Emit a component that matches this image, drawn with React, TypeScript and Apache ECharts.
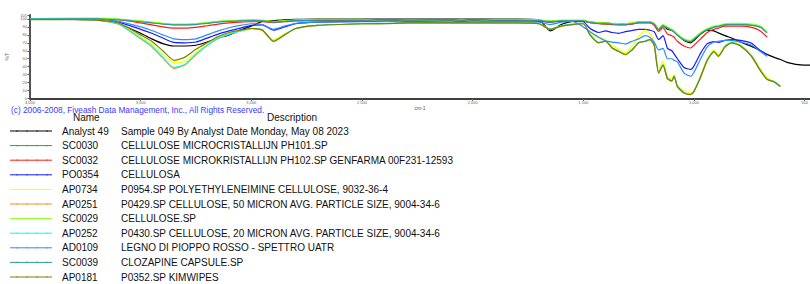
import React, { useEffect, useRef } from "react";
import * as echarts from "echarts";

// Wavenumbers (cm-1) at which the spectra were read
const WN = [4000, 3800, 3700, 3600, 3500, 3450, 3400, 3350, 3300, 3250, 3200, 3150, 3100, 3050, 3000, 2950, 2900, 2850, 2800, 2700, 2500, 2350, 2300, 2100, 2050, 2000, 1900, 1800, 1700, 1650, 1600, 1550, 1500, 1470, 1430, 1400, 1370, 1340, 1310, 1280, 1250, 1220, 1200, 1180, 1160, 1140, 1120, 1100, 1090, 1075, 1045, 1015, 1000, 970, 940, 910, 890, 860, 830, 790, 740, 700, 670, 640, 610, 580, 540, 500, 470];

const analyst49 = [99.5, 99.5, 99, 94, 82, 75, 69, 66, 66, 67, 71, 76, 80, 86, 91, 97, 98, 99, 99.5, 100, 100, 100, 100, 100, 100, 100, 100, 100, 99, 85, 93, 97, 97.5, 96, 95, 95, 94, 93.5, 93.5, 94, 96, 96, 96, 94, 87, 92, 87, 86, 84, 80, 73, 70, 73, 81, 86, 85, 82.5, 79, 76, 71, 65.5, 60, 55.5, 52, 49, 45.5, 43, 42, 42];
const sc0030 = [100, 100.5, 100.5, 99.5, 97, 95.5, 94, 93, 93, 93.5, 95, 96.5, 97.5, 98, 98.5, 98, 96.5, 97.5, 98.5, 99, 99, 99, 99, 99, 99, 99, 99, 99, 98.5, 97, 98, 98, 98, 96, 95, 94.5, 94, 93.5, 93.5, 94.5, 96, 96, 96, 94, 87, 92, 89, 86, 84, 80, 74, 72, 75, 82, 87, 90, 91, 93, 93.5, 93.5, 92.5, 90, 83];
const sc0032 = [100, 100, 100, 99, 95, 92.5, 90, 88.5, 88.5, 89.5, 91.5, 93.5, 95, 96, 96.5, 96.5, 95.5, 96.5, 97.5, 98, 98.5, 98.5, 98.5, 98.5, 98.5, 98.5, 98.5, 98.5, 98, 96.5, 97.5, 97.5, 97, 95.5, 94, 93.5, 93, 92.5, 92.5, 93.5, 95, 95, 95, 92, 84.5, 89, 81, 79, 77, 72, 66, 63.5, 67, 75, 83, 87, 88.5, 91, 91, 91, 89.5, 85, 77];
const po0354 = [100, 100, 100, 96, 87, 82, 76, 70.5, 70, 71, 76, 81, 85, 88.5, 92, 92.5, 86, 90, 94, 96, 97, 97, 97, 97, 97, 97, 97.5, 97.5, 97, 96, 97, 97, 96.5, 88, 83, 85, 83, 82, 84, 85.5, 87, 87, 86, 84, 74, 79, 63, 60, 56, 50, 39, 36.5, 41, 57, 69, 71.5, 70.5, 73, 74, 73, 69.5, 60, 55];
const ap0734 = [100, 100, 99, 95, 78, 69, 56, 45, 47, 58, 69, 77, 82, 85, 87, 86, 74, 81, 88, 92, 94, 94.5, 95, 95, 95, 95, 95, 95, 94.5, 87, 91.5, 93.5, 94.5, 82, 76, 74, 66, 62, 57, 66, 78, 86, 82, 70, 36, 47, 28, 24, 30, 17, 10, 7, 10, 29, 50, 61, 55, 67, 71.5, 67.5, 55, 37, 26, 22, 16];
const ap0251 = [99.5, 99.5, 98.5, 93.5, 75, 65, 51, 38, 42, 55, 66.5, 75.5, 81, 85, 88, 86, 72, 80, 88, 92, 94, 94.5, 95, 95, 95, 95, 95, 95, 94, 87, 91, 93, 94, 80, 70, 72, 63.5, 59, 55, 61, 70, 72, 74, 67, 32, 42, 25, 22, 28, 15, 7, 5, 9, 27, 48, 59, 53, 65, 70, 66, 53, 35, 24, 21, 15];
const sc0029 = [100.5, 101, 101, 100, 97.5, 96, 94.5, 93.5, 93.5, 94, 95.5, 97, 98, 98.5, 99, 98.5, 97, 98, 99, 99.5, 99.5, 96, 99, 97, 99.5, 96.5, 99.5, 99.5, 99, 97.5, 98.5, 98.5, 98.5, 96.5, 95.5, 95, 94.5, 94, 94, 95, 96.5, 96.5, 96.5, 94.5, 88, 93, 90, 87, 85, 81, 75, 73, 76, 83, 88, 91, 92, 94, 94.5, 94.5, 93.5, 91, 84];
const ap0252 = [99.5, 99.5, 98.5, 94, 76, 66, 52, 39, 43, 56, 67, 76, 81, 85, 88, 86, 71.5, 80, 88, 92, 94, 94.5, 95, 95, 95, 95, 95, 95, 94, 87.5, 91.5, 93.5, 94.5, 80.5, 70.5, 72.5, 64, 59.5, 55.5, 61.5, 70.5, 72.5, 74.5, 67.5, 32.5, 42.5, 25.5, 22.5, 28.5, 15.5, 7.5, 5.5, 9.5, 27.5, 48.5, 59.5, 53.5, 65.5, 70.5, 66.5, 53.5, 35.5, 24.5, 21.5, 15.5];
const ad0109 = [100, 100, 100, 97, 90, 85.5, 80, 75, 74, 75, 80, 85, 89, 92, 94, 93, 87, 91, 94.5, 96, 96.5, 96.5, 96.5, 96.5, 96.5, 96.5, 97, 97, 96, 93, 96, 97, 90, 84, 77, 72.5, 71, 70, 68.5, 72, 75, 79, 77, 71, 61, 63, 50, 50, 48, 46, 32, 28, 33, 50, 65, 71, 72, 73, 73, 71, 67, 59, 53];
const sc0039 = [99.5, 100, 100, 99, 96.5, 95, 93.5, 92.5, 92.5, 93, 94.5, 96, 97, 97.5, 98, 97.5, 96, 97, 98, 98.5, 98.5, 98.5, 98.5, 98.5, 98.5, 98.5, 98.5, 98.5, 98, 96.5, 97.5, 97.5, 97.5, 95.5, 94.5, 94, 93.5, 93, 93, 94, 95.5, 95.5, 95.5, 93.5, 86.5, 91.5, 88.5, 85.5, 83.5, 79.5, 73.5, 71.5, 74.5, 81.5, 86.5, 89.5, 90.5, 92.5, 93, 93, 92, 89.5, 82.5];
const ap0181 = [99, 99, 98.5, 95, 80, 72, 60, 48, 52, 62, 70, 78, 83, 86, 88, 86, 72, 80, 88, 92, 94, 94.5, 95, 95, 95, 95, 95, 95, 94, 87, 91, 93, 94, 80, 70, 72, 63.5, 59, 55, 61, 70, 72, 74, 67, 32, 42, 25, 22, 28, 15, 7, 5, 9, 27, 48, 59, 53, 65, 70, 66, 53, 35, 24, 21, 15];

const NAMES = ["Analyst 49", "SC0030", "SC0032", "PO0354", "AP0734", "AP0251", "SC0029", "AP0252", "AD0109", "SC0039", "AP0181"];
const DESCRIPTIONS = [
  "Sample 049 By Analyst Date Monday, May 08 2023",
  "CELLULOSE MICROCRISTALLIJN PH101.SP",
  "CELLULOSE MICROKRISTALLIJN PH102.SP GENFARMA 00F231-12593",
  "CELLULOSA",
  "P0954.SP POLYETHYLENEIMINE CELLULOSE, 9032-36-4",
  "P0429.SP CELLULOSE, 50 MICRON AVG. PARTICLE SIZE, 9004-34-6",
  "CELLULOSE.SP",
  "P0430.SP CELLULOSE, 20 MICRON AVG. PARTICLE SIZE, 9004-34-6",
  "LEGNO DI PIOPPO ROSSO - SPETTRO UATR",
  "CLOZAPINE CAPSULE.SP",
  "P0352.SP KIMWIPES",
];
const COLORS = ["#000000", "#00c800", "#ff1a1a", "#1a1aff", "#ffff00", "#ff8c1a", "#88ff1a", "#00ffff", "#2b8cff", "#2e9a9a", "#808000"];
const VALUES = [analyst49, sc0030, sc0032, po0354, ap0734, ap0251, sc0029, ap0252, ad0109, sc0039, ap0181];
const X_TICKS = [4000, 3500, 3000, 2500, 2000, 1500, 1000, 500];
const COPYRIGHT = "(c) 2006-2008, Fiveash Data Management, Inc., All Rights Reserved.";

const FONT = "'Liberation Sans', Arial, sans-serif";

export default function App() {
  const ref = useRef<HTMLDivElement>(null);
  useEffect(() => {
    document.body.style.margin = "0";
    const chart = echarts.init(ref.current!, null, { renderer: "svg" });

    const series = VALUES.map((vals, i) => ({
      type: "line",
      name: NAMES[i],
      data: vals.map((v, j) => [WN[j], v]),
      showSymbol: false,
      smooth: 0.2,
      lineStyle: { color: COLORS[i], width: 1.2 },
      itemStyle: { color: COLORS[i] },
      z: 2 + i,
    }));

    const rowY0 = 131;
    const rowStep = 14.6;
    const legendEls: any[] = [];
    NAMES.forEach((n, i) => {
      const y = rowY0 + i * rowStep;
      legendEls.push({
        type: "line",
        shape: { x1: 10, y1: y, x2: 52, y2: y },
        style: { stroke: COLORS[i], lineWidth: 1 },
      });
      [17, 27, 37, 47].forEach((tx) => {
        legendEls.push({
          type: "line",
          shape: { x1: tx, y1: y - 0.8, x2: tx, y2: y + 0.8 },
          style: { stroke: COLORS[i], lineWidth: 0.8 },
        });
      });
      legendEls.push({
        type: "text",
        x: 62,
        y: y,
        style: { text: n, font: `10px ${FONT}`, fill: "#111", textVerticalAlign: "middle" },
      });
      legendEls.push({
        type: "text",
        x: 121,
        y: y,
        style: { text: DESCRIPTIONS[i], font: `10px ${FONT}`, fill: "#111", textVerticalAlign: "middle" },
      });
    });
    legendEls.push({
      type: "text",
      x: 73,
      y: 117.5,
      style: { text: "Name", font: `10px ${FONT}`, fill: "#111", textVerticalAlign: "middle" },
    });
    legendEls.push({
      type: "text",
      x: 267,
      y: 117.5,
      style: { text: "Description", font: `10px ${FONT}`, fill: "#111", textVerticalAlign: "middle" },
    });
    legendEls.push({
      type: "text",
      x: 11,
      y: 110,
      style: { text: COPYRIGHT, font: `8.3px ${FONT}`, fill: "#3a3aff", textVerticalAlign: "middle" },
    });

    chart.setOption({
      animation: false,
      textStyle: { fontFamily: FONT },
      grid: { left: 30, right: 0, top: 15, bottom: 185.5, containLabel: false, outerBoundsMode: "none" },
      xAxis: {
        type: "value",
        inverse: true,
        min: 476,
        max: 4000,
        name: "cm-1",
        nameLocation: "middle",
        nameGap: 7,
        nameTextStyle: { fontSize: 5, color: "#555" },
        axisLine: { lineStyle: { color: "#000", width: 1.5 } },
        axisTick: { customValues: X_TICKS, length: 2.5, lineStyle: { color: "#666" } },
        axisLabel: { customValues: X_TICKS, fontSize: 4, color: "#666", margin: 2 },
        splitLine: { show: false },
      },
      yAxis: {
        type: "value",
        min: 0,
        max: 105,
        interval: 10,
        name: "%T",
        nameLocation: "middle",
        nameGap: 15,
        nameRotate: 90,
        nameTextStyle: { fontSize: 5, color: "#555" },
        axisLine: { show: true, lineStyle: { color: "#555", width: 2 } },
        axisTick: { show: true, length: 2.5, lineStyle: { color: "#555" } },
        axisLabel: { fontSize: 4, color: "#666", margin: 3 },
        splitLine: { show: false },
      },
      series,
      graphic: { elements: legendEls },
    });
    return () => chart.dispose();
  }, []);
  return <div ref={ref} style={{ width: 810, height: 284 }} />;
}
